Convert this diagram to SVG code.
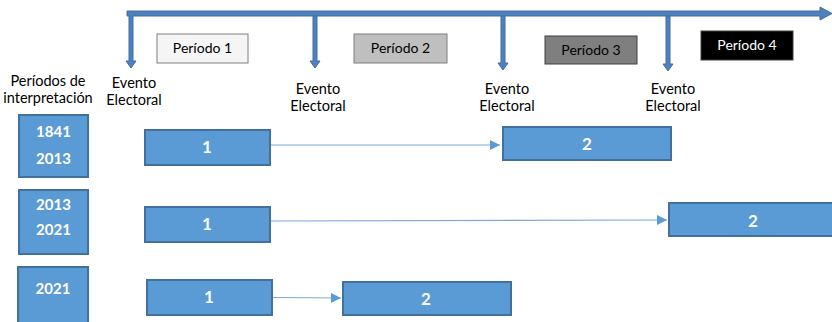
<svg xmlns="http://www.w3.org/2000/svg" width="832" height="322" viewBox="0 0 832 322">
<defs>
<style>
.t{font-family:Lato,"Open Sans",sans-serif;font-size:14.5px;fill:#000;text-anchor:middle}
.p{font-family:Lato,"Open Sans",sans-serif;font-size:14px;text-anchor:middle}
.b{fill:#5b9bd5;stroke:#41719c;stroke-width:2}
.w{font-family:Lato,"Open Sans",sans-serif;font-size:15px;font-weight:bold;fill:#fff;text-anchor:middle}
.wl{font-family:Lato,"Open Sans",sans-serif;font-size:17px;font-weight:bold;fill:#fff;text-anchor:middle}
.tl{fill:#4f81bd;stroke:#3f6fa3;stroke-width:1}
.c{stroke:#7aa9dc;stroke-width:1.2;fill:none;marker-end:url(#ah)}
</style>
<marker id="ah" viewBox="0 0 10 10" refX="10" refY="5" markerWidth="12" markerHeight="10" markerUnits="userSpaceOnUse" orient="auto">
<path d="M0,0 L10,5 L0,10 Z" fill="#5b9bd5"/>
</marker>
</defs>
<g id="timeline">
<path class="tl" d="M127,11 H820 V7 L832,13.5 L820,20 V16 H133 V61 H136 L131,68 L126,61 H129 V16 H127 Z"/>
<path class="tl" d="M313,16 H317 V61 H320 L315,68 L310,61 H313 Z"/>
<path class="tl" d="M501,16 H505 V63 H508 L503,70 L498,63 H501 Z"/>
<path class="tl" d="M666,16 H670 V64 H673 L668,71 L663,64 H666 Z"/>
</g>
<g id="periodo1"><rect x="157" y="34" width="91" height="29" fill="#f5f5f5" stroke="#7f7f7f"/><text class="p" x="202.5" y="53">Período 1</text></g>
<g id="periodo2"><rect x="354" y="34" width="93" height="29" fill="#bfbfbf" stroke="#7f7f7f"/><text class="p" x="400.5" y="53">Período 2</text></g>
<g id="periodo3"><rect x="545" y="36" width="92" height="28" fill="#7f7f7f" stroke="#404040"/><text class="p" x="591" y="55">Período 3</text></g>
<g id="periodo4"><rect x="701" y="31" width="92" height="29" fill="#000" stroke="#404040"/><text class="p" x="747" y="50" fill="#fff">Período 4</text></g>
<g id="evento1"><text class="t" x="134" y="88">Evento</text><text class="t" x="134" y="105">Electoral</text></g>
<g id="evento2"><text class="t" x="318" y="94">Evento</text><text class="t" x="318" y="111">Electoral</text></g>
<g id="evento3"><text class="t" x="507" y="94">Evento</text><text class="t" x="507" y="111">Electoral</text></g>
<g id="evento4"><text class="t" x="673" y="94">Evento</text><text class="t" x="673" y="111">Electoral</text></g>
<g id="titulo"><text class="t" x="48" y="86">Períodos de</text><text class="t" x="48" y="103">interpretación</text></g>
<g id="p1841"><rect class="b" x="19" y="115" width="69" height="62"/><text class="w" x="53.5" y="137">1841</text><text class="w" x="53.5" y="164">2013</text></g>
<g id="p2013"><rect class="b" x="19" y="190" width="69" height="64"/><text class="w" x="53.5" y="210">2013</text><text class="w" x="53.5" y="235">2021</text></g>
<g id="p2021"><rect class="b" x="18" y="267" width="70" height="60"/><text class="w" x="53" y="294">2021</text></g>
<g id="r1n1"><rect class="b" x="145" y="130" width="125" height="35"/><text class="wl" x="207" y="153">1</text></g>
<g id="r1n2"><rect class="b" x="503" y="127" width="168" height="33"/><text class="wl" x="587" y="150">2</text></g>
<g id="r2n1"><rect class="b" x="145" y="207" width="125" height="35"/><text class="wl" x="207" y="230">1</text></g>
<g id="r2n2"><rect class="b" x="669" y="203" width="170" height="33"/><text class="wl" x="753" y="227">2</text></g>
<g id="r3n1"><rect class="b" x="147" y="280" width="125" height="35"/><text class="wl" x="209" y="303">1</text></g>
<g id="r3n2"><rect class="b" x="343" y="282" width="168" height="33"/><text class="wl" x="426" y="305">2</text></g>
<g id="connectors">
<path class="c" d="M271,145 H500"/>
<path class="c" d="M271,221 L667,220"/>
<path class="c" d="M273,297.5 L341,298"/>
</g>
</svg>
